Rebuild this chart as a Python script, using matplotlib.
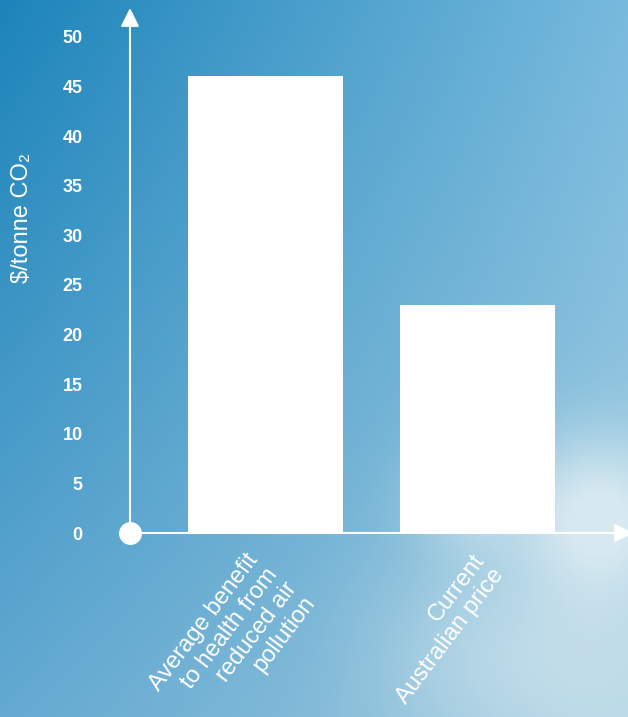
import numpy as np
import matplotlib
matplotlib.use("Agg")
import matplotlib.pyplot as plt
import matplotlib.transforms as mtransforms

plt.rcParams['font.family'] = ['Liberation Sans', 'DejaVu Sans']

categories = ["Average benefit\nto health from\nreduced air\npollution",
              "Current\nAustralian price"]
values = [46, 23]
yticks = [0, 5, 10, 15, 20, 25, 30, 35, 40, 45, 50]

W, H = 628, 717
fig = plt.figure(figsize=(W / 100, H / 100), dpi=100)

# sky background (decoration only)
yy, xx = np.mgrid[0:H, 0:W]
u = xx / W
v = yy / H
tl = np.array([28, 132, 186]) / 255
tr = np.array([120, 186, 222]) / 255
bl = np.array([100, 170, 210]) / 255
br = np.array([160, 202, 222]) / 255
sky = ((1 - u)[..., None] * (1 - v)[..., None] * tl + u[..., None] * (1 - v)[..., None] * tr
       + (1 - u)[..., None] * v[..., None] * bl + u[..., None] * v[..., None] * br)
cloud = np.zeros((H, W))
for cx, cy, s, a in [(600, 510, 55, 0.75), (470, 495, 40, 0.45), (450, 650, 70, 0.2),
                     (590, 660, 100, 0.5)]:
    cloud += a * np.exp(-((xx - cx) ** 2 + (yy - cy) ** 2) / (2 * s ** 2))
cloud = np.clip(cloud, 0, 0.85)
white = np.array([228, 240, 244]) / 255
sky = sky * (1 - cloud[..., None]) + white * cloud[..., None]
bg = fig.add_axes([0, 0, 1, 1])
bg.imshow(sky, aspect='auto', extent=[0, 1, 0, 1], origin='upper')
bg.axis('off')

ax = fig.add_axes([130 / W, (H - 533) / H, 498 / W, 525 / H])
ax.set_facecolor('none')
x = np.arange(len(values))
ax.bar(x, values, width=0.731, color='white', zorder=3)
ax.set_xlim(-0.639, 1.71)
ax.set_ylim(0, 52.9)

for s in ax.spines.values():
    s.set_visible(False)

ax.set_yticks(yticks)
ax.set_yticklabels([str(t) for t in yticks], color='white', fontsize=13, fontweight='bold')
ax.tick_params(axis='y', length=0, pad=34)
ax.set_xticks(x)
ax.set_xticklabels(categories, color='white', fontsize=17, rotation=53,
                   ha='right', va='top', rotation_mode='anchor',
                   multialignment='right', linespacing=1.1)
ax.tick_params(axis='x', length=0, pad=12)
shifts = [-20, -6]
for lab, dx in zip(ax.get_xticklabels(), shifts):
    lab.set_transform(lab.get_transform() +
                      mtransforms.ScaledTranslation(dx / 100, 0, fig.dpi_scale_trans))

ax.set_ylabel("\\$/tonne CO₂", color='white', fontsize=17)
ax.yaxis.set_label_coords(-0.195, 0.6)

arrow = dict(arrowstyle='-|>', color='white', lw=1.5, mutation_scale=28,
             shrinkA=0, shrinkB=0)
ax.annotate('', xy=(0, 1), xytext=(0, 0), xycoords='axes fraction',
            arrowprops=arrow, annotation_clip=False, zorder=4)
ax.annotate('', xy=(1.01, 0), xytext=(0, 0), xycoords='axes fraction',
            arrowprops=arrow, annotation_clip=False, zorder=4)
ax.scatter([0], [0], s=240, color='white', transform=ax.transAxes,
           clip_on=False, zorder=5)

fig.savefig('out.png', dpi=100)
